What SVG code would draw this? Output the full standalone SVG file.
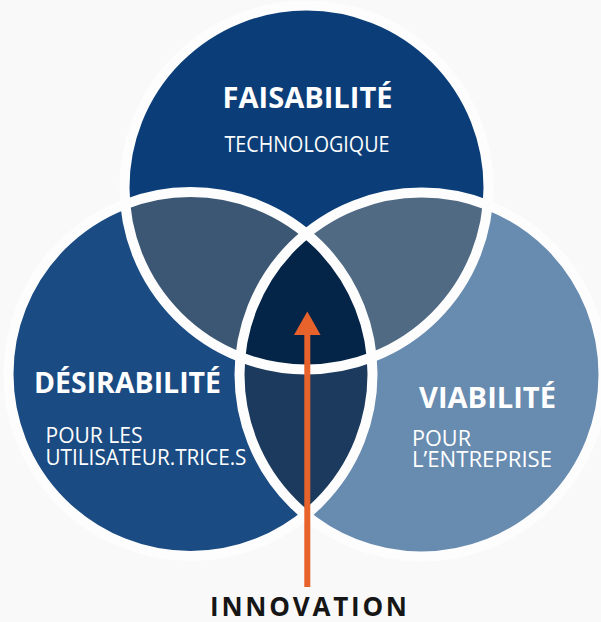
<svg xmlns="http://www.w3.org/2000/svg" width="601" height="622" viewBox="0 0 601 622">
<style>
.t{font-family:"Open Sans","Liberation Sans",sans-serif;fill:#ffffff}
.h{font-weight:700;font-size:28px}
.s{font-weight:400;font-size:21px}
.ring{fill:none;stroke:#fdfdfd;stroke-width:10}
.lbl{font-family:"Open Sans","Liberation Sans",sans-serif;font-weight:700;font-size:26px;fill:#161616}
</style>
<defs>
<clipPath id="cT"><circle cx="306.5" cy="187.5" r="182"/></clipPath>
<clipPath id="cL"><circle cx="190.5" cy="374" r="182"/></clipPath>
<clipPath id="cR"><circle cx="421.5" cy="374.5" r="182"/></clipPath>
</defs>
<rect width="601" height="622" fill="#f9f9f9"/>
<g id="faisabilite">
<circle cx="306.5" cy="187.5" r="182" fill="#0b3e78"/>
<text class="t h" x="307.5" y="108.3" text-anchor="middle" textLength="170" lengthAdjust="spacingAndGlyphs">FAISABILITÉ</text>
<text class="t s" x="307" y="151.5" text-anchor="middle" textLength="165" lengthAdjust="spacingAndGlyphs">TECHNOLOGIQUE</text>
</g>
<g id="desirabilite">
<circle cx="190.5" cy="374" r="182" fill="#1a4b82"/>
<text class="t h" x="34" y="393.3" textLength="187" lengthAdjust="spacingAndGlyphs">DÉSIRABILITÉ</text>
<text class="t s" x="45.5" y="443" textLength="97" lengthAdjust="spacingAndGlyphs">POUR LES</text>
<text class="t s" x="45.5" y="464.5" textLength="201" lengthAdjust="spacingAndGlyphs">UTILISATEUR.TRICE.S</text>
</g>
<g id="viabilite">
<circle cx="421.5" cy="374.5" r="182" fill="#688bb0"/>
<text class="t h" x="419" y="408.3" textLength="137" lengthAdjust="spacingAndGlyphs">VIABILITÉ</text>
<text class="t s" x="412" y="445.5" textLength="59" lengthAdjust="spacingAndGlyphs">POUR</text>
<text class="t s" x="412" y="467.3" textLength="140" lengthAdjust="spacingAndGlyphs">L’ENTREPRISE</text>
</g>
<g id="overlaps">
<g clip-path="url(#cT)"><circle cx="190.5" cy="374" r="182" fill="#3c5773"/></g>
<g clip-path="url(#cT)"><circle cx="421.5" cy="374.5" r="182" fill="#506a84"/></g>
<g clip-path="url(#cL)"><circle cx="421.5" cy="374.5" r="182" fill="#1c3a5d"/></g>
<g clip-path="url(#cL)"><g clip-path="url(#cR)"><circle cx="306.5" cy="187.5" r="182" fill="#052548"/></g></g>
</g>
<g id="rings">
<circle class="ring" cx="306.5" cy="187.5" r="182"/>
<circle class="ring" cx="190.5" cy="374" r="182"/>
<circle class="ring" cx="421.5" cy="374.5" r="182"/>
</g>
<g id="connectors">
<line x1="307.3" y1="587" x2="307.3" y2="332" stroke="#e8622c" stroke-width="6"/>
<polygon points="307.3,311.5 294,335 320.6,335" fill="#e8622c"/>
</g>
<g id="innovation">
<text class="lbl" x="308.5" y="615.8" text-anchor="middle" textLength="197" lengthAdjust="spacing">INNOVATION</text>
</g>
</svg>
